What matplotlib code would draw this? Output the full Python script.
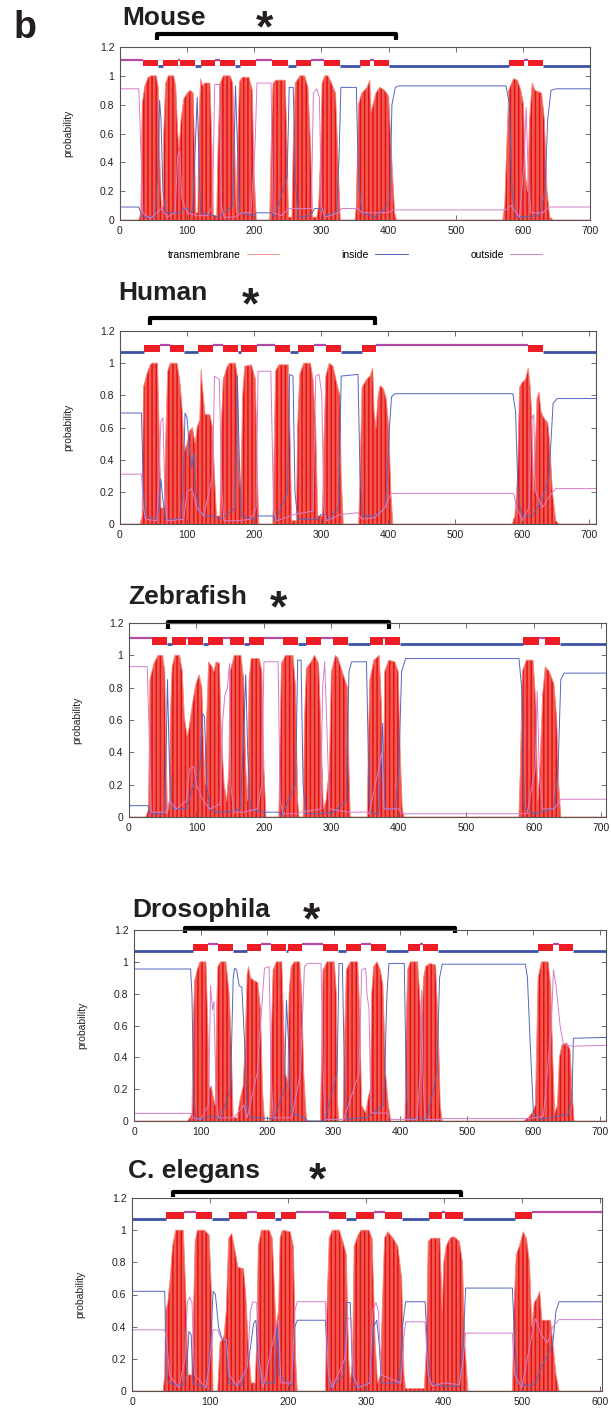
import matplotlib
matplotlib.use('Agg')
import matplotlib.pyplot as plt

plt.rcParams['font.family'] = ['Liberation Sans', 'DejaVu Sans']
plt.rcParams['hatch.linewidth'] = 1.1

# ---- data (residue, probability) ----
ytick_vals = [0, 0.2, 0.4, 0.6, 0.8, 1.0, 1.2]
ytick_labels = ['0', '0.2', '0.4', '0.6', '0.8', '1', '1.2']
xticks_700 = [0, 100, 200, 300, 400, 500, 600, 700]
xticks_600 = [0, 100, 200, 300, 400, 500, 600]

# Mouse
mouse_len = 700
mouse_tm = [(0,0),(28,0),(31,0.05),(33,0.8),(37,0.93),(42,0.99),(46,1.0),(54,1.0),(57,0.92),(60,0.3),(62,0.08),(64,0.1),
            (65,0.6),(68,0.95),(72,1.0),(80,1.0),(83,0.93),(86,0.6),(88,0.5),
            (91,0.7),(95,0.84),(100,0.88),(105,0.9),(109,0.88),(111,0.5),(113,0.05),(116,0.05),
            (117,0.6),(120,0.98),(123,0.93),(126,0.95),(134,0.95),(137,0.5),(139,0.03),(144,0.03),
            (146,0.5),(149,0.95),(154,1.0),(164,1.0),(168,0.95),(171,0.5),(173,0.05),
            (175,0.5),(178,0.96),(182,0.99),(192,0.99),(197,0.9),(200,0.3),(203,0),(223,0),
            (225,0.5),(228,0.95),(232,0.97),(246,0.97),(249,0.5),(251,0.02),(256,0.02),
            (258,0.5),(261,0.95),(268,1.0),(275,1.0),(280,0.92),(284,0.5),(287,0.02),(293,0.02),
            (296,0.1),(299,0.5),(301,0.95),(305,1.0),(310,1.0),(315,0.95),(321,0.88),(325,0.4),(328,0),(350,0),
            (352,0.1),(355,0.8),(360,0.88),(368,0.92),(372,0.97),(374,0.75),(377,0.8),
            (381,0.88),(387,0.92),(394,0.9),(400,0.86),(405,0.4),(409,0.05),(412,0),(570,0),
            (573,0.1),(576,0.5),(579,0.9),(586,0.98),(592,0.97),(597,0.9),(601,0.8),(604,0.3),(607,0.2),
            (610,0.7),(614,0.95),(618,0.9),(628,0.88),(632,0.7),(636,0.2),(640,0.02),(645,0),(700,0)]
mouse_in = [(0,0.09),(28,0.09),(33,0.02),(52,0.02),(56,0.3),(59,0.83),(61,0.7),(64,0.2),(68,0.05),(90,0.05),(95,0.08),
            (100,0.08),(108,0.05),(112,0.5),(115,0.85),(117,0.5),(120,0.05),(140,0.03),(146,0.02),(168,0.1),(172,0.93),
            (175,0.5),(178,0.05),(198,0.03),(203,0.05),(226,0.05),(230,0.02),(249,0.3),(252,0.92),(258,0.92),(261,0.3),
            (265,0.02),(283,0.03),(290,0.08),(300,0.08),(305,0.03),(322,0.05),(326,0.4),(329,0.92),(352,0.92),(355,0.3),
            (360,0.05),(380,0.02),(395,0.08),(402,0.15),(405,0.8),(410,0.92),(415,0.93),(575,0.93),(580,0.8),(584,0.2),
            (590,0.02),(625,0.03),(633,0.2),(637,0.7),(642,0.9),(650,0.91),(700,0.91)]
mouse_out = [(0,0.91),(28,0.91),(31,0.5),(34,0.05),(45,0.01),(62,0.08),(70,0.02),(82,0.05),(86,0.45),(89,0.48),(92,0.15),
             (100,0.05),(115,0.03),(130,0.03),(138,0.1),(141,0.94),(148,0.94),(151,0.1),(155,0.02),(170,0.02),(182,0.05),
             (195,0.05),(201,0.5),(204,0.95),(225,0.95),(228,0.05),(240,0.03),(252,0.08),(285,0.08),(288,0.88),(293,0.91),
             (297,0.85),(300,0.1),(305,0.02),(325,0.05),(330,0.08),(355,0.08),(360,0.05),(400,0.05),(406,0.07),(575,0.07),
             (582,0.1),(595,0.02),(602,0.4),(605,0.78),(608,0.3),(612,0.05),(630,0.05),(638,0.09),(700,0.09)]
mouse_seg_start = [35, 64, 90, 120, 149, 179, 227, 262, 304, 357, 378, 580, 608]
mouse_seg_end = [57, 86, 111, 141, 172, 202, 250, 284, 327, 373, 400, 602, 630]
mouse_bracket = (55, 411)

# Human
human_len = 710
human_tm = [(0,0),(30,0),(33,0.05),(35,0.85),(40,0.93),(45,0.99),(48,1.0),(56,1.0),(59,0.5),(61,0.1),(66,0.1),
            (68,0.5),(71,0.95),(75,1.0),(85,1.0),(89,0.9),(93,0.7),(96,0.45),(100,0.5),(104,0.58),(108,0.6),(112,0.5),
            (115,0.6),(119,0.65),(121,0.96),(123,0.85),(127,0.68),(134,0.68),(138,0.6),(141,0.3),(144,0.05),(149,0.05),
            (151,0.6),(154,0.9),(160,0.98),(163,1.0),(172,1.0),(175,0.92),(178,0.3),(180,0.2),
            (183,0.8),(186,0.98),(196,0.99),(202,0.9),(205,0.3),(207,0),(228,0),
            (230,0.5),(232,0.95),(237,0.99),(251,0.99),(254,0.5),(256,0.02),(263,0.02),
            (265,0.6),(268,0.93),(274,1.0),(284,1.0),(288,0.9),(292,0.6),(295,0.05),(302,0.05),
            (304,0.5),(307,0.92),(312,1.0),(318,0.98),(323,0.88),(328,0.8),(330,0.3),(333,0),(356,0),
            (358,0.3),(361,0.85),(368,0.9),(373,0.92),(377,0.97),(379,0.7),(382,0.6),
            (385,0.8),(388,0.86),(393,0.84),(397,0.78),(401,0.6),(404,0.2),(407,0),(585,0),
            (589,0.05),(593,0.3),(596,0.85),(600,0.88),(605,0.9),(609,0.97),(612,0.85),(615,0.6),(617,0.2),
            (619,0.4),(622,0.78),(625,0.82),(628,0.7),(632,0.66),(638,0.63),(641,0.5),(645,0.2),(650,0.02),(655,0),(710,0)]
human_in = [(0,0.69),(32,0.69),(35,0.2),(38,0.05),(55,0.03),(58,0.1),(61,0.28),(64,0.15),(68,0.03),(90,0.03),(94,0.2),
            (97,0.69),(100,0.66),(104,0.45),(107,0.35),(110,0.44),(113,0.2),(118,0.08),(128,0.05),(140,0.05),(150,0.03),
            (172,0.1),(175,0.92),(178,0.4),(181,0.05),(200,0.03),(205,0.05),(228,0.05),(232,0.02),(250,0.2),(253,0.93),
            (258,0.92),(261,0.2),(265,0.03),(295,0.03),(300,0.06),(306,0.06),(310,0.02),(326,0.1),(330,0.92),(355,0.93),
            (358,0.3),(362,0.05),(380,0.05),(396,0.1),(402,0.6),(405,0.79),(410,0.81),(586,0.81),(590,0.7),(594,0.15),
            (600,0.05),(615,0.05),(622,0.1),(630,0.15),(640,0.3),(646,0.75),(652,0.78),(710,0.78)]
human_out = [(0,0.31),(32,0.31),(35,0.1),(38,0.03),(55,0.02),(58,0.3),(61,0.64),(64,0.66),(67,0.2),(70,0.02),(95,0.03),
             (100,0.2),(107,0.22),(115,0.1),(125,0.05),(138,0.3),(141,0.92),(148,0.9),(152,0.2),(155,0.02),(175,0.02),
             (195,0.03),(203,0.1),(206,0.95),(225,0.95),(229,0.1),(233,0.02),(255,0.05),(260,0.06),(288,0.08),(292,0.92),
             (297,0.93),(301,0.8),(304,0.1),(308,0.02),(330,0.06),(355,0.07),(360,0.03),(380,0.04),(395,0.1),(404,0.19),
             (587,0.19),(592,0.1),(600,0.02),(610,0.1),(614,0.65),(617,0.68),(620,0.2),(630,0.1),(640,0.17),(650,0.22),
             (710,0.22)]
human_seg_start = [36, 74, 116, 154, 181, 231, 266, 308, 361, 609]
human_seg_end = [59, 96, 138, 176, 204, 254, 289, 330, 382, 631]
human_bracket = (45, 380)

# Zebrafish
zfish_len = 707
zfish_tm = [(0,0),(25,0),(29,0.05),(31,0.85),(37,0.95),(43,1.0),(50,1.0),(53,0.9),(55,0.4),(57,0.02),(60,0.1),
            (61,0.6),(64,0.93),(68,1.0),(75,1.0),(79,0.9),(82,0.62),(86,0.5),
            (89,0.55),(94,0.7),(99,0.82),(104,0.88),(108,0.8),(110,0.5),(113,0.2),
            (115,0.6),(118,0.96),(123,0.93),(126,0.9),(129,0.96),(134,0.95),(137,0.5),(141,0.2),(145,0.1),
            (148,0.3),(150,0.9),(156,1.0),(166,1.0),(170,0.85),(173,0.3),(176,0.1),
            (178,0.85),(181,0.98),(193,0.98),(197,0.9),(200,0.3),(203,0),(222,0),
            (224,0.5),(226,0.95),(232,1.0),(243,1.0),(247,0.8),(250,0.1),(252,0),(258,0),
            (260,0.6),(263,0.92),(270,0.96),(275,1.0),(281,0.95),(285,0.5),(288,0.05),(292,0.1),
            (297,0.3),(300,0.9),(306,1.0),(310,0.98),(316,0.9),(324,0.8),(326,0.3),(328,0),(353,0),
            (355,0.5),(357,0.85),(363,0.97),(371,1.0),(374,0.7),(377,0.1),
            (379,0.9),(385,0.97),(394,0.96),(399,0.9),(402,0.4),(405,0.05),(408,0),(578,0),
            (580,0.3),(583,0.9),(589,0.97),(599,0.97),(603,0.7),(606,0.1),
            (609,0.3),(613,0.75),(617,0.93),(623,0.9),(630,0.82),(634,0.6),(637,0.2),(640,0),(707,0)]
zfish_in = [(0,0.07),(28,0.07),(31,0.02),(52,0.02),(55,0.4),(57,0.85),(60,0.3),(64,0.05),(85,0.05),(92,0.15),(105,0.3),
            (109,0.64),(112,0.62),(115,0.2),(120,0.05),(130,0.03),(145,0.03),(165,0.05),(170,0.5),(173,0.88),(176,0.4),
            (180,0.05),(198,0.03),(203,0.03),(222,0.03),(226,0.01),(247,0.2),(250,0.97),(255,0.97),(258,0.2),(262,0.02),
            (285,0.02),(290,0.03),(300,0.02),(322,0.1),(326,0.9),(330,0.96),(352,0.96),(356,0.1),(360,0.02),(370,0.02),
            (376,0.58),(379,0.05),(395,0.05),(400,0.3),(404,0.9),(410,0.98),(578,0.98),(582,0.8),(586,0.05),(600,0.02),
            (630,0.05),(636,0.3),(640,0.85),(645,0.89),(707,0.89)]
zfish_out = [(0,0.93),(27,0.93),(30,0.5),(33,0.03),(55,0.03),(60,0.1),(70,0.05),(85,0.1),(90,0.3),(96,0.31),(100,0.2),
             (110,0.1),(120,0.05),(135,0.08),(139,0.6),(142,0.75),(146,0.8),(149,0.95),(151,0.2),(155,0.03),(170,0.03),
             (190,0.05),(197,0.2),(200,0.96),(221,0.96),(224,0.1),(228,0.02),(250,0.02),(255,0.03),(284,0.05),(287,0.8),
             (290,0.96),(293,0.6),(297,0.05),(325,0.03),(352,0.03),(356,0.02),(375,0.4),(378,0.05),(400,0.05),(405,0.02),
             (578,0.02),(590,0.02),(602,0.3),(605,0.78),(608,0.3),(613,0.05),(630,0.05),(640,0.11),(707,0.11)]
zfish_seg_start = [34, 63, 88, 117, 150, 178, 228, 262, 303, 357, 379, 584, 617]
zfish_seg_end = [56, 85, 110, 140, 171, 200, 250, 284, 325, 376, 401, 607, 639]
zfish_bracket = (58, 385)

# Drosophila
dmel_len = 709
dmel_tm = [(0,0),(80,0),(84,0.02),(87,0.05),(89,0.6),(91,0.88),(95,0.95),(99,1.0),(108,1.0),(111,0.6),(113,0.2),(116,0.22),
           (119,0.15),(122,0.1),(124,0.7),(126,0.97),(130,1.0),(138,1.0),(143,0.8),(146,0.5),(149,0.02),(155,0.02),
           (160,0.15),(164,0.22),(167,0.5),(170,0.92),(172,0.97),(175,0.9),(181,0.88),(186,0.87),(190,0.7),(193,0.2),
           (196,0),(204,0),(206,0.5),(209,0.95),(214,1.0),(222,1.0),(225,0.6),(227,0.3),(231,0.25),
           (233,0.8),(236,0.97),(241,1.0),(249,1.0),(252,0.8),(255,0.3),(259,0),(280,0),
           (282,0.5),(284,0.95),(290,1.0),(301,1.0),(304,0.8),(306,0.1),(308,0),(314,0),
           (316,0.5),(319,0.95),(325,1.0),(336,1.0),(339,0.7),(342,0.1),(348,0.05),(352,0.15),(355,0.2),
           (357,0.8),(360,0.97),(365,1.0),(370,0.95),(374,0.85),(378,0.3),(382,0.1),(386,0),(407,0),
           (409,0.6),(411,0.95),(415,1.0),(426,1.0),(429,0.8),(432,0.6),(435,0.9),(438,0.97),(444,0.99),(453,0.98),
           (457,0.6),(460,0.1),(463,0),(585,0),(592,0.02),(598,0.05),(603,0.1),(605,0.5),(607,0.9),(612,1.0),
           (622,1.0),(626,0.85),(629,0.4),(632,0.05),(636,0.1),(639,0.4),(643,0.48),(650,0.49),(655,0.45),(658,0.2),
           (661,0),(709,0)]
dmel_in = [(0,0.955),(85,0.955),(87,0.8),(90,0.1),(94,0.01),(110,0.02),(116,0.03),(122,0.03),(130,0.01),(145,0.2),
           (149,0.9),(151,0.96),(154,0.95),(158,0.85),(162,0.84),(166,0.5),(170,0.05),(175,0.02),(195,0.02),(210,0.01),
           (226,0.2),(229,0.76),(232,0.5),(236,0.05),(255,0.02),(262,0),(282,0),(287,0.01),(305,0.3),(308,0.99),
           (313,0.99),(316,0.3),(320,0.01),(340,0.02),(350,0.02),(375,0.1),(380,0.8),(383,0.99),(406,0.99),(409,0.2),
           (412,0.01),(430,0.02),(440,0.01),(455,0.3),(459,0.9),(463,0.985),(588,0.985),(591,0.9),(595,0.5),(600,0.05),
           (610,0.01),(625,0.02),(635,0.03),(652,0.04),(658,0.15),(660,0.52),(709,0.525)]
dmel_out = [(0,0.048),(85,0.048),(89,0.02),(100,0.01),(112,0.1),(115,0.85),(118,0.7),(120,0.75),(123,0.2),(127,0.02),
            (150,0.02),(165,0.1),(170,0.02),(185,0.3),(190,0.6),(196,0.96),(203,0.97),(206,0.3),(209,0.02),(230,0.02),
            (237,0.02),(250,0.3),(256,0.97),(261,0.99),(281,0.99),(284,0.3),(287,0.01),(315,0.01),(338,0.3),(342,0.95),
            (348,0.96),(350,0.8),(353,0.7),(356,0.05),(380,0.05),(386,0.01),(425,0.01),(430,0.3),(432,0.82),(434,0.3),
            (437,0.01),(460,0.01),(463,0.015),(588,0.015),(600,0.02),(615,0.03),(627,0.6),(630,0.95),(634,0.85),
            (640,0.6),(645,0.48),(658,0.47),(709,0.475)]
dmel_seg_start = [89, 126, 169, 206, 231, 284, 319, 356, 411, 434, 607, 639]
dmel_seg_end = [111, 148, 191, 228, 253, 307, 341, 378, 430, 456, 629, 659]
dmel_bracket = (77, 482)

# C. elegans
cel_len = 603
cel_tm = [(0,0),(40,0),(42,0.1),(43,0.5),(46,0.55),(49,0.7),(52,0.9),(56,1.0),(66,1.0),(69,0.6),(72,0.1),(77,0.1),
          (79,0.5),(81,0.93),(84,1.0),(93,1.0),(99,0.97),(102,0.6),(104,0),(110,0),(113,0.3),(118,0.34),(121,0.5),
          (124,0.95),(128,0.98),(133,0.85),(136,0.77),(143,0.76),(146,0.6),(149,0.3),(153,0.05),(158,0.05),(160,0.3),
          (162,0.9),(166,1.0),(176,1.0),(180,0.95),(183,0.6),(185,0.4),(188,0.5),(190,0.95),(193,1.0),(203,0.99),
          (207,0.9),(210,0.2),(212,0),(248,0),(250,0.5),(253,0.95),(257,1.0),(266,1.0),(271,0.92),(275,0.85),
          (278,0.2),(280,0.05),(283,0.2),(285,0.9),(290,0.97),(294,1.0),(304,1.0),(308,0.95),(312,0.3),(315,0.05),
          (319,0.1),(321,0.5),(324,0.95),(328,0.99),(335,0.95),(341,0.9),(346,0.7),(349,0.1),(351,0.015),(375,0.015),
          (378,0.3),(380,0.93),(384,0.95),(395,0.95),(398,0.5),(400,0.8),(403,0.9),(408,0.95),(413,0.96),(420,0.93),
          (424,0.8),(427,0.3),(431,0),(488,0),(490,0.5),(493,0.85),(497,0.9),(502,0.99),(506,0.95),(510,0.8),
          (513,0.4),(516,0.55),(520,0.58),(523,0.62),(526,0.44),(537,0.44),(540,0.3),(544,0.1),(548,0),(603,0)]
cel_in = [(0,0.62),(42,0.62),(44,0.1),(47,0.05),(65,0.03),(70,0.1),(73,0.37),(76,0.35),(78,0.05),(95,0.02),(101,0.3),
          (104,0.62),(107,0.6),(111,0.4),(115,0.33),(121,0.3),(124,0.05),(140,0.03),(150,0.2),(156,0.42),(159,0.44),
          (162,0.2),(166,0.05),(183,0.05),(186,0.42),(189,0.1),(205,0.03),(209,0.4),(212,0.44),(248,0.44),(252,0.1),
          (255,0.02),(272,0.1),(275,0.55),(280,0.55),(283,0.1),(286,0.02),(305,0.05),(310,0.4),(314,0.44),(317,0.3),
          (320,0.05),(343,0.05),(347,0.4),(351,0.555),(376,0.555),(380,0.2),(383,0.05),(400,0.03),(420,0.03),
          (425,0.3),(428,0.64),(488,0.64),(491,0.3),(495,0.05),(510,0.03),(518,0.05),(525,0.15),(533,0.22),
          (540,0.3),(544,0.5),(548,0.555),(603,0.555)]
cel_out = [(0,0.38),(42,0.38),(45,0.3),(48,0.1),(60,0.02),(68,0.2),(71,0.55),(74,0.585),(77,0.55),(80,0.1),(95,0.02),
           (100,0.2),(104,0.38),(110,0.38),(115,0.32),(121,0.32),(125,0.1),(135,0.03),(148,0.15),(152,0.5),(155,0.554),
           (160,0.55),(163,0.2),(168,0.02),(185,0.4),(188,0.44),(191,0.05),(205,0.05),(209,0.5),(212,0.555),(248,0.555),
           (252,0.1),(257,0.02),(273,0.2),(277,0.45),(281,0.45),(284,0.1),(290,0.02),(305,0.05),(309,0.5),(313,0.55),
           (316,0.5),(320,0.1),(345,0.05),(348,0.3),(351,0.43),(376,0.43),(380,0.1),(385,0.03),(400,0.05),(420,0.04),
           (425,0.2),(428,0.36),(488,0.36),(491,0.1),(500,0.02),(515,0.4),(518,0.45),(525,0.35),(533,0.3),(540,0.4),
           (548,0.444),(603,0.444)]
cel_seg_start = [44, 82, 125, 161, 191, 253, 287, 325, 381, 402, 492]
cel_seg_end = [67, 103, 147, 184, 210, 275, 310, 347, 398, 425, 513]
cel_bracket = (53, 422)

# ---- figure ----
W, H = 611, 1411
fig = plt.figure(figsize=(W / 100, H / 100), dpi=100)


def px_rect(l, t, r, b):
    return [l / W, 1 - b / H, (r - l) / W, (b - t) / H]


def panel(box, xmax, xticks, tm, ins, outs, s_start, s_end, start_inside, bracket, br_y, name, name_xy, star_xy):
    ax = fig.add_axes(px_rect(*box))
    tx, ty = zip(*tm)
    ax.fill_between(tx, 0, ty, facecolor='#f15a4c', edgecolor='#e3121c', hatch='||||', linewidth=0)
    ax.plot(tx, ty, color='#f58b80', lw=0.6, label='transmembrane')
    ix, iy = zip(*ins)
    ax.plot(ix, iy, color='#5566c0', lw=0.7, label='inside')
    ox, oy = zip(*outs)
    ax.plot(ox, oy, color='#d47fcc', lw=0.7, label='outside')

    # topology line: loops alternate inside (1.07) / outside (1.11)
    edges = [0] + [v for pair in zip(s_start, s_end) for v in pair] + [xmax]
    inside = start_inside
    for a, b in zip(edges[0::2], edges[1::2]):
        if inside:
            ax.plot([a, b], [1.07, 1.07], color='#3c52a8', lw=2.0, solid_capstyle='butt')
        else:
            ax.plot([a, b], [1.11, 1.11], color='#b24aa6', lw=1.6, solid_capstyle='butt')
        inside = not inside
    ax.bar(s_start, 0.046, width=[e - s for s, e in zip(s_start, s_end)], bottom=1.067,
           align='edge', color='#ee1d25', linewidth=0)

    ax.set_xlim(0, xmax)
    ax.set_ylim(0, 1.2)
    ax.set_xticks(xticks)
    ax.set_yticks(ytick_vals)
    ax.set_yticklabels(ytick_labels)
    ax.tick_params(direction='in', top=True, right=True, length=3.5, width=0.6,
                   color='#555555', labelsize=7.5, labelcolor='#222222', pad=4)
    for sp in ax.spines.values():
        sp.set_color('#555555')
        sp.set_linewidth(0.8)
    ax.set_ylabel('probability', fontsize=7.5, color='#222222')
    ax.yaxis.set_label_coords(-47 / (box[2] - box[0]), 0.5)

    # bracket over the region
    ax.plot([bracket[0], bracket[0], bracket[1], bracket[1]], [br_y[0], br_y[1], br_y[1], br_y[0]],
            color='black', lw=3, clip_on=False, solid_joinstyle='round', solid_capstyle='butt')

    fig.text(name_xy[0] / W, 1 - name_xy[1] / H, name, fontsize=19, fontweight='bold',
             color='#231f20', ha='left', va='baseline')
    fig.text(star_xy[0] / W, 1 - (star_xy[1] + 21) / H, '*', fontsize=32, fontweight='bold',
             color='#231f20', ha='center', va='baseline')
    return ax


ax1 = panel((120, 47, 590, 220), mouse_len, xticks_700, mouse_tm, mouse_in, mouse_out,
            mouse_seg_start, mouse_seg_end, False, mouse_bracket, (1.246, 1.293),
            'Mouse', (122, 25), (264, 20))
panel((120, 331, 596, 524), human_len, xticks_700, human_tm, human_in, human_out,
      human_seg_start, human_seg_end, True, human_bracket, (1.237, 1.28),
      'Human', (118, 300), (250, 297))
panel((129, 623, 606, 817), zfish_len, xticks_700, zfish_tm, zfish_in, zfish_out,
      zfish_seg_start, zfish_seg_end, False, zfish_bracket, (1.163, 1.206),
      'Zebrafish', (128, 604), (278, 600))
panel((134, 930, 606, 1121), dmel_len, xticks_700, dmel_tm, dmel_in, dmel_out,
      dmel_seg_start, dmel_seg_end, True, dmel_bracket, (1.18, 1.213),
      'Drosophila', (132, 917), (311, 912))
panel((132, 1198, 602, 1391), cel_len, xticks_600, cel_tm, cel_in, cel_out,
      cel_seg_start, cel_seg_end, True, cel_bracket, (1.206, 1.237),
      'C. elegans', (128, 1178), (317, 1172))

# legend under the first panel (text first, sample line after)
handles, labels = ax1.get_legend_handles_labels()
ax1.legend(handles[:3], labels[:3], loc='center', bbox_to_anchor=(0.5, -35 / 173), ncol=3,
           frameon=False, markerfirst=False, fontsize=7.5, handlelength=3.1,
           handletextpad=0.6, columnspacing=6.0)

fig.text(14 / W, 1 - 38 / H, 'b', fontsize=27, fontweight='bold', color='#231f20', ha='left', va='baseline')

fig.savefig('out.png', dpi=100)
